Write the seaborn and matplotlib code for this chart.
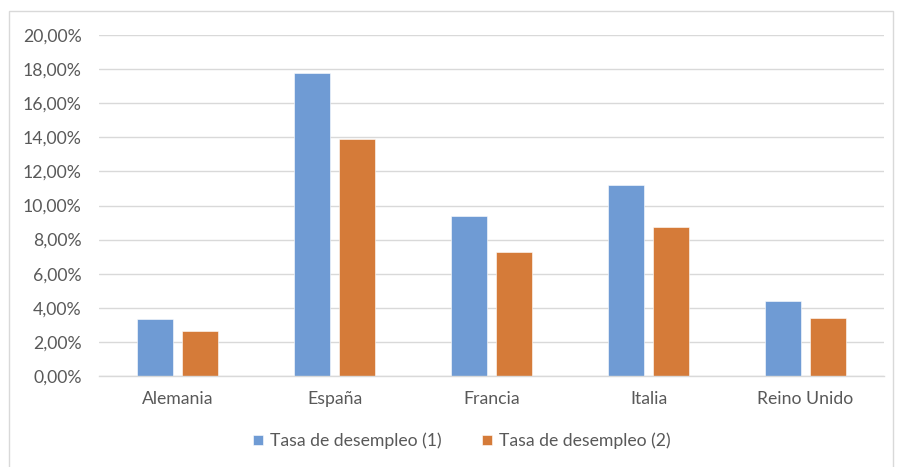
import matplotlib
matplotlib.use("Agg")
import matplotlib.pyplot as plt
import matplotlib.ticker as mticker
from matplotlib.patches import Rectangle
import seaborn as sns
import pandas as pd

countries = ["Alemania", "España", "Francia", "Italia", "Reino Unido"]
series_names = ["Tasa de desempleo (1)", "Tasa de desempleo (2)"]
tasa_1 = [3.35, 17.8, 9.4, 11.2, 4.38]
tasa_2 = [2.62, 13.88, 7.29, 8.72, 3.40]
y_ticks = [0, 2, 4, 6, 8, 10, 12, 14, 16, 18, 20]

df = pd.DataFrame({
    "pais": countries * 2,
    "serie": [series_names[0]] * len(countries) + [series_names[1]] * len(countries),
    "valor": tasa_1 + tasa_2,
})

sns.set_style("white")
plt.rcParams["font.family"] = ["Lato", "DejaVu Sans"]

fig = plt.figure(figsize=(8.97, 4.67), dpi=100)
ax = fig.add_axes([99 / 897, 1 - 376 / 467, 785 / 897, 341 / 467])

palette = ["#6F9BD4", "#D57B39"]
sns.barplot(data=df, x="pais", y="valor", hue="serie", palette=palette,
            width=0.576, gap=0.21, ax=ax, edgecolor="#FFFFFF", linewidth=0.4,
            saturation=1, legend=True)

ax.set_xlim(-0.5, len(countries) - 0.5)
ax.set_ylim(0, 20)
ax.set_yticks(y_ticks)
ax.yaxis.set_major_formatter(mticker.FuncFormatter(lambda v, p: f"{v:.2f}".replace(".", ",") + "%"))
ax.grid(axis="y", color="#D9D9D9", linewidth=1)
ax.set_axisbelow(True)
for s in ["top", "right", "left"]:
    ax.spines[s].set_visible(False)
ax.spines["bottom"].set_color("#D9D9D9")
ax.spines["bottom"].set_linewidth(1)
ax.tick_params(axis="both", length=0, colors="#595959", labelsize=12.7)
ax.tick_params(axis="x", pad=11)
ax.tick_params(axis="y", pad=12.5)
ax.set_xlabel("")
ax.set_ylabel("")

handles, labels = ax.get_legend_handles_labels()
ax.get_legend().remove()
fig.legend(handles, labels, loc="center", bbox_to_anchor=(462 / 897, 1 - 441 / 467),
           ncol=2, frameon=False, fontsize=12.7, labelcolor="#595959",
           handlelength=0.55, handleheight=0.55, handletextpad=0.4, columnspacing=2.3)

fig.patches.append(Rectangle((9 / 897, -0.01), 884 / 897, 1 - 11 / 467 + 0.01, transform=fig.transFigure,
                             fill=False, edgecolor="#D9D9D9", linewidth=1))

fig.savefig("out.png", dpi=100, facecolor="white")
